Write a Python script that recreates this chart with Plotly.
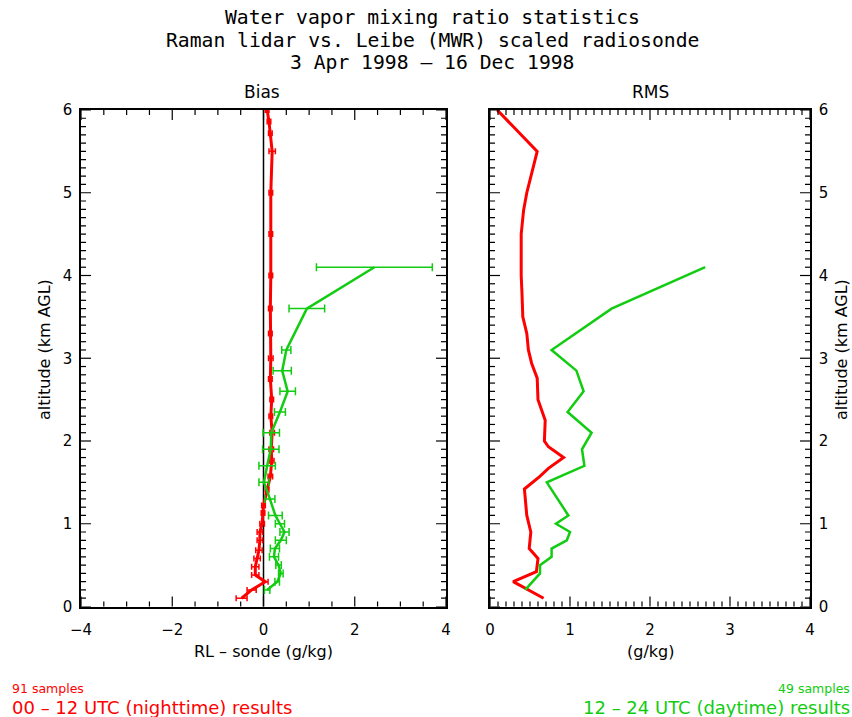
import numpy as np
import plotly.graph_objects as go

# ---------------- data ----------------
# Night (00-12 UTC) bias: altitude (km), RL - sonde (g/kg), error
night_bias_alt = [0.10, 0.20, 0.30, 0.38, 0.48, 0.58, 0.68, 0.80, 0.90, 1.00, 1.13, 1.22, 1.41, 1.57,
                  1.76, 1.90, 2.10, 2.30, 2.50, 2.75, 3.00, 3.30, 3.60, 4.00, 4.50, 5.00, 5.50, 5.72,
                  5.86, 6.00]
night_bias_val = [-0.48, -0.26, 0.04, -0.18, -0.18, -0.14, -0.10, -0.08, -0.08, -0.03, -0.01, 0.00,
                  0.08, 0.15, 0.18, 0.17, 0.19, 0.16, 0.18, 0.15, 0.16, 0.15, 0.15, 0.16, 0.16, 0.16,
                  0.19, 0.15, 0.12, 0.08]
night_bias_err = [0.12, 0.10, 0.06, 0.08, 0.08, 0.07, 0.07, 0.06, 0.06, 0.05, 0.04, 0.04, 0.04, 0.05,
                  0.05, 0.05, 0.05, 0.04, 0.04, 0.04, 0.05, 0.04, 0.04, 0.04, 0.04, 0.04, 0.07, 0.04,
                  0.04, 0.04]

# Day (12-24 UTC) bias
day_alt = [0.2, 0.3, 0.4, 0.5, 0.6, 0.7, 0.8, 0.9, 1.0, 1.1, 1.3, 1.5, 1.7, 1.9, 2.1, 2.35, 2.6,
           2.85, 3.1, 3.6, 4.1]
day_bias_val = [0.08, 0.30, 0.38, 0.33, 0.23, 0.25, 0.38, 0.46, 0.36, 0.26, 0.14, 0.01, 0.08, 0.16,
                0.17, 0.36, 0.53, 0.41, 0.50, 0.95, 2.43]
day_bias_err = [0.06, 0.05, 0.05, 0.06, 0.10, 0.10, 0.12, 0.10, 0.10, 0.15, 0.11, 0.11, 0.18, 0.18,
                0.18, 0.12, 0.17, 0.20, 0.10, 0.39, 1.27]

# RMS
night_rms_alt = [0.10, 0.30, 0.42, 0.58, 0.70, 0.90, 1.10, 1.42, 1.57, 1.67, 1.80, 1.93, 2.00, 2.25,
                 2.50, 2.76, 2.94, 3.10, 3.30, 3.50, 3.78, 4.00, 4.50, 4.63, 4.79, 5.00, 5.15, 5.36,
                 5.50, 6.00]
night_rms_val = [0.67, 0.29, 0.58, 0.60, 0.49, 0.51, 0.46, 0.43, 0.62, 0.73, 0.92, 0.73, 0.68, 0.69,
                 0.60, 0.59, 0.52, 0.48, 0.46, 0.41, 0.40, 0.39, 0.39, 0.40, 0.42, 0.46, 0.50, 0.56,
                 0.59, 0.09]
day_rms_val = [0.44, 0.53, 0.625, 0.625, 0.77, 0.77, 0.96, 1.00, 0.825, 0.98, 0.85, 0.71, 1.18, 1.15,
               1.27, 0.97, 1.17, 1.08, 0.77, 1.52, 2.69]

night_samples = 91
day_samples = 49

# axis ranges and tick spacings (major, minor)
bias_range = [-4, 4]
bias_ticks = (2, 0.5)
rms_range = [0, 4]
rms_ticks = (1, 0.1)
alt_range = [0, 6]
alt_ticks = (1, 0.1)

RED = "#FF0000"
GREEN = "#11CC11"
FONT = "DejaVu Sans"
TFONT = "DejaVu Sans Mono"

W, H = 852, 717
MAJ_LEN, MIN_LEN = 10, 5


def px(x):
    return x / W


def py(y):
    return 1 - y / H


fig = go.Figure()

# Bias panel
fig.add_trace(go.Scatter(
    x=night_bias_val, y=night_bias_alt, mode="lines", xaxis="x", yaxis="y",
    line=dict(color=RED, width=3),
    error_x=dict(type="data", array=night_bias_err, color=RED, thickness=1.5, width=3),
    showlegend=False))
fig.add_trace(go.Scatter(
    x=day_bias_val, y=day_alt, mode="lines", xaxis="x", yaxis="y",
    line=dict(color=GREEN, width=2.5),
    error_x=dict(type="data", array=day_bias_err, color=GREEN, thickness=1.5, width=4),
    showlegend=False))

# RMS panel
fig.add_trace(go.Scatter(
    x=night_rms_val, y=night_rms_alt, mode="lines", xaxis="x2", yaxis="y2",
    line=dict(color=RED, width=3), showlegend=False))
fig.add_trace(go.Scatter(
    x=day_rms_val, y=day_alt, mode="lines", xaxis="x2", yaxis="y2",
    line=dict(color=GREEN, width=2.5), showlegend=False))

shapes = []
# zero reference line in bias panel
shapes.append(dict(type="line", xref="x", yref="y domain", x0=0, x1=0, y0=0, y1=1,
                   line=dict(color="black", width=1.5), layer="below"))


def tick_values(rng, major, minor):
    n = int(round((rng[1] - rng[0]) / minor))
    vals = rng[0] + minor * np.arange(n + 1)
    out = []
    for v in vals:
        is_major = abs(v / major - round(v / major)) < 1e-6
        out.append((float(v), MAJ_LEN if is_major else MIN_LEN))
    return out


def x_ticks(xref, yref, rng, major, minor):
    # inside ticks along the bottom and top edges of a panel
    for v, ln in tick_values(rng, major, minor):
        for anchor, sign in [(0, 1), (1, -1)]:
            shapes.append(dict(type="line", xref=xref, yref=yref + " domain",
                               x0=v, x1=v, ysizemode="pixel", yanchor=anchor,
                               y0=0, y1=sign * ln, line=dict(color="black", width=1.2)))


def y_ticks(xref, yref, rng, major, minor):
    # inside ticks along the left and right edges of a panel
    for v, ln in tick_values(rng, major, minor):
        for anchor, sign in [(0, 1), (1, -1)]:
            shapes.append(dict(type="line", xref=xref + " domain", yref=yref,
                               y0=v, y1=v, xsizemode="pixel", xanchor=anchor,
                               x0=0, x1=sign * ln, line=dict(color="black", width=1.2)))


x_ticks("x", "y", bias_range, *bias_ticks)
y_ticks("x", "y", alt_range, *alt_ticks)
x_ticks("x2", "y2", rms_range, *rms_ticks)
y_ticks("x2", "y2", alt_range, *alt_ticks)

ydom = [py(606.5), py(110)]
xdom1 = [px(81), px(446)]
xdom2 = [px(490), px(810)]


def axis(**kw):
    d = dict(showline=True, linecolor="black", linewidth=1.5, mirror=True,
             ticks="", showgrid=False, zeroline=False, automargin=False,
             tickfont=dict(family=FONT, size=15, color="black"))
    d.update(kw)
    return d


fig.update_layout(
    template="none",
    width=W, height=H,
    margin=dict(l=0, r=0, t=0, b=0, pad=0, autoexpand=False),
    paper_bgcolor="white", plot_bgcolor="white",
    font=dict(family=FONT, color="black"),
    xaxis=axis(domain=xdom1, range=bias_range, dtick=bias_ticks[0], tick0=0, anchor="y",
               ticklabelstandoff=9),
    yaxis=axis(domain=ydom, range=alt_range, dtick=alt_ticks[0], anchor="x",
               ticklabelstandoff=4),
    xaxis2=axis(domain=xdom2, range=rms_range, dtick=rms_ticks[0], anchor="y2",
                ticklabelstandoff=9),
    yaxis2=axis(domain=ydom, range=alt_range, dtick=alt_ticks[0], anchor="x2", side="right",
                ticklabelstandoff=4),
    shapes=shapes,
)

ann = []


def add_text(text, x, y, size, color="black", xanchor="center", yanchor="middle", angle=0,
             family=FONT):
    ann.append(dict(text=text, x=px(x), y=py(y), xref="paper", yref="paper", showarrow=False,
                    xanchor=xanchor, yanchor=yanchor, textangle=angle, borderpad=0,
                    font=dict(family=family, size=size, color=color)))


add_text("Water vapor mixing ratio statistics", 432, 18, 19.7, family=TFONT)
add_text("Raman lidar vs. Leibe (MWR) scaled radiosonde", 432, 40, 19.7, family=TFONT)
add_text("3 Apr 1998 – 16 Dec 1998", 432, 62, 19.7, family=TFONT)
add_text("Bias", 262, 92, 17)
add_text("RMS", 650, 92, 17)
add_text("RL – sonde (g/kg)", 263, 651, 16)
add_text("(g/kg)", 650, 651, 16)
add_text("altitude (km AGL)", 44, 350, 16, angle=-90)
add_text("altitude (km AGL)", 841, 350, 16, angle=-90)
add_text(f"{night_samples} samples", 11, 688, 12.5, RED, xanchor="left")
add_text("00 – 12 UTC (nighttime) results", 11, 707, 18, RED, xanchor="left")
add_text(f"{day_samples} samples", 851, 688, 12.5, GREEN, xanchor="right")
add_text("12 – 24 UTC (daytime) results", 851, 707, 18, GREEN, xanchor="right")

fig.update_layout(annotations=ann)

fig.write_html("out.html")
